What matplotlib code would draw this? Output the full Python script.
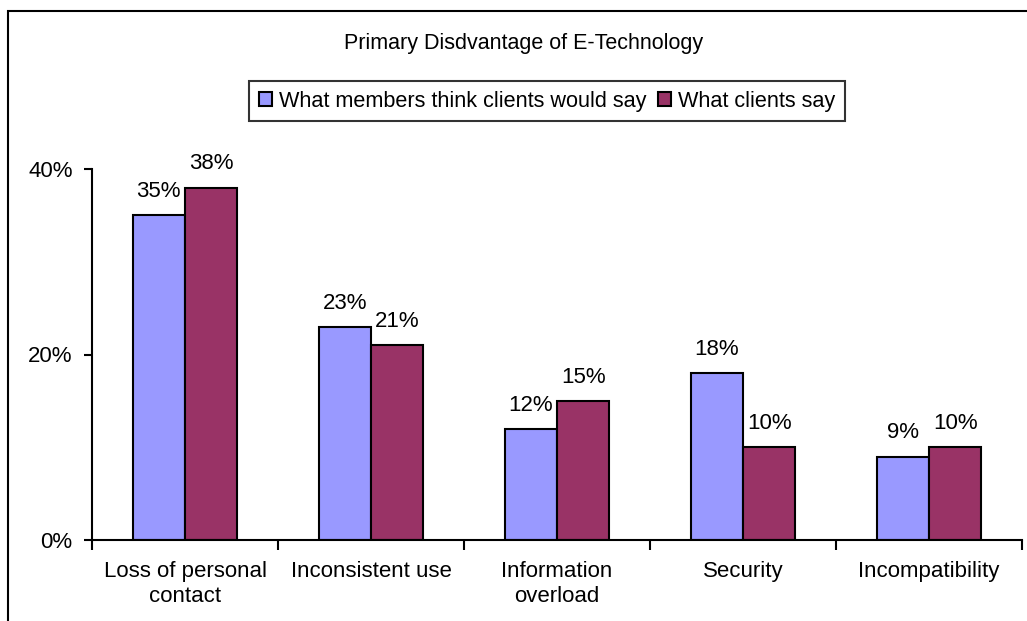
import numpy as np
import matplotlib.pyplot as plt
from matplotlib.patches import Rectangle

plt.rcParams['font.family'] = ['Liberation Sans', 'DejaVu Sans']

# Données
categories = ["Loss of personal\ncontact", "Inconsistent use", "Information\noverload",
              "Security", "Incompatibility"]
members_think = [35, 23, 12, 18, 9]
clients_say = [38, 21, 15, 10, 10]
series_names = ["What members think clients would say", "What clients say"]
colors = ["#9999FF", "#993366"]

fig = plt.figure(figsize=(10.27, 6.21), dpi=100, facecolor="white")
ax = fig.add_axes([92 / 1027, 81 / 621, 930 / 1027, 371 / 621])

x = np.arange(len(categories))
w = 0.282
fs = 16

b1 = ax.bar(x - w / 2, members_think, w, color=colors[0], edgecolor="black", linewidth=1.5,
            label=series_names[0])
b2 = ax.bar(x + w / 2, clients_say, w, color=colors[1], edgecolor="black", linewidth=1.5,
            label=series_names[1])

# Étiquettes de valeur au-dessus des barres
for bars, vals in ((b1, members_think), (b2, clients_say)):
    for r, v in zip(bars, vals):
        ax.annotate(f"{v}%", (r.get_x() + r.get_width() / 2, v), xytext=(0, 13),
                    textcoords="offset points", ha="center", va="baseline", fontsize=fs)

ax.set_xlim(-0.5, len(categories) - 0.5)
ax.set_ylim(0, 40)
ax.set_yticks([0, 20, 40])
ax.set_yticklabels(["0%", "20%", "40%"])

# Graduations aux limites des catégories, libellés au centre
ax.set_xticks(x)
ax.set_xticklabels(categories, linespacing=1.25)
ax.set_xticks(np.arange(len(categories) + 1) - 0.5, minor=True)
ax.tick_params(axis="x", which="major", length=0, pad=15, labelsize=fs)
ax.tick_params(axis="x", which="minor", length=7, width=1.5, direction="out")
ax.tick_params(axis="y", length=6, width=1.5, pad=8, labelsize=fs)

for s in ("top", "right"):
    ax.spines[s].set_visible(False)
for s in ("left", "bottom"):
    ax.spines[s].set_linewidth(1.5)

fig.text(524 / 1027, 1 - 44 / 621, "Primary Disdvantage of E-Technology",
         ha="center", va="center", fontsize=15.5)

leg = fig.legend(loc="center", bbox_to_anchor=(547 / 1027, 1 - 101 / 621), ncol=2,
                 fontsize=15.6, frameon=True, fancybox=False, edgecolor="black",
                 handlelength=0.6, handleheight=0.6, handletextpad=0.35,
                 columnspacing=0.5, borderpad=0.45, borderaxespad=0)
leg.get_frame().set_linewidth(1.5)

# Cadre autour du graphique
fig.patches.append(Rectangle((8 / 1027, -0.05), 1.1, 1.05 - 11 / 621,
                             transform=fig.transFigure, fill=False,
                             edgecolor="black", linewidth=1.5))

fig.savefig("out.png", dpi=100, facecolor="white")
